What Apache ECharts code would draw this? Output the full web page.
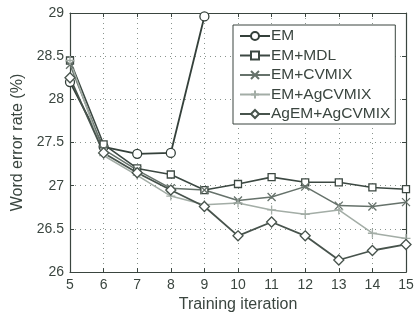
<!DOCTYPE html>
<html><head><meta charset="utf-8">
<script src="https://cdn.jsdelivr.net/npm/echarts@6/dist/echarts.min.js"></script>
<style>html,body{margin:0;padding:0;background:#fff}#c{width:420px;height:318px}</style>
</head><body><div id="c"></div>
<script>
const iterations = [5, 6, 7, 8, 9, 10, 11, 12, 13, 14, 15];
const emValues = [28.2, 27.45, 27.37, 27.38, 28.96, null, null, null, null, null, null];
const mdlValues = [28.45, 27.48, 27.2, 27.13, 26.95, 27.02, 27.1, 27.04, 27.04, 26.98, 26.96];
const cvmixValues = [28.4, 27.42, 27.18, 26.97, 26.95, 26.83, 26.87, 26.99, 26.77, 26.76, 26.81];
const agcvmixValues = [28.45, 27.35, 27.12, 26.88, 26.78, 26.80, 26.72, 26.67, 26.72, 26.45, 26.39];
const agemValues = [28.25, 27.38, 27.15, 26.95, 26.76, 26.42, 26.58, 26.42, 26.14, 26.25, 26.32];
const seriesNames = ['EM', 'EM+MDL', 'EM+CVMIX', 'EM+AgCVMIX', 'AgEM+AgCVMIX'];
const xTicks = [5, 6, 7, 8, 9, 10, 11, 12, 13, 14, 15];
const yTicks = [26, 26.5, 27, 27.5, 28, 28.5, 29];

const pair = vals => iterations.map((x, i) => [x, vals[i]]).filter(p => p[1] !== null);
const txt = '#3a453f';
const font = 'Liberation Sans, Arial, sans-serif';
const xMark = 'path://M0,0L10,10M10,0L0,10';
const plusMark = 'path://M5,0L5,10M0,5L10,5';

function mk(name, vals, color, symbol, size, lw) {
  return {
    name, type: 'line', data: pair(vals), symbol, symbolSize: size,
    showSymbol: true,
    lineStyle: { color, width: lw },
    itemStyle: { color: '#fff', borderColor: color, borderWidth: 1.3 },
    emphasis: { disabled: true }, animation: false, z: 3
  };
}

const chart = echarts.init(document.getElementById('c'));
chart.setOption({
  animation: false,
  backgroundColor: '#fff',
  grid: { left: 70, right: 14, top: 13, bottom: 42 },
  legend: {
    orient: 'vertical', left: 233, top: 25,
    data: seriesNames,
    backgroundColor: '#fff', borderColor: '#3a453f', borderWidth: 1,
    padding: [3, 5, 2, 6], itemGap: 3.5, itemWidth: 30, itemHeight: 10,
    textStyle: { fontFamily: font, fontSize: 15.5, color: txt, padding: [0, 0, 0, -4] }
  },
  xAxis: [{
    type: 'value', min: 5, max: 15, interval: 1,
    name: 'Training iteration', nameLocation: 'middle', nameGap: 24,
    nameTextStyle: { fontFamily: font, fontSize: 16, color: txt },
    axisLine: { lineStyle: { color: '#3a453f', width: 1.2 } },
    axisTick: { inside: true, length: 4, lineStyle: { color: '#3a453f' } },
    axisLabel: { fontFamily: font, fontSize: 14, color: txt, margin: 6,
      formatter: v => xTicks.includes(v) ? String(v) : '' },
    splitLine: { show: true, lineStyle: { type: [1, 4], color: '#8a958e', width: 1 } }
  }, {
    type: 'value', min: 5, max: 15, interval: 1, position: 'top',
    axisLine: { lineStyle: { color: '#3a453f', width: 1.2 } },
    axisTick: { inside: true, length: 4, lineStyle: { color: '#3a453f' } },
    axisLabel: { show: false }, splitLine: { show: false }
  }],
  yAxis: [{
    type: 'value', min: 26, max: 29, interval: 0.5,
    name: 'Word error rate (%)', nameLocation: 'middle', nameGap: 44,
    nameTextStyle: { fontFamily: font, fontSize: 16, color: txt },
    axisLine: { show: true, lineStyle: { color: '#3a453f', width: 1.2 } },
    axisTick: { show: true, inside: true, length: 4, lineStyle: { color: '#3a453f' } },
    axisLabel: { fontFamily: font, fontSize: 14, color: txt, margin: 6,
      formatter: v => yTicks.includes(v) ? String(v) : '' },
    splitLine: { show: true, lineStyle: { type: [1, 4], color: '#8a958e', width: 1 } }
  }, {
    type: 'value', min: 26, max: 29, interval: 0.5, position: 'right',
    axisLine: { show: true, lineStyle: { color: '#3a453f', width: 1.2 } },
    axisTick: { show: true, inside: true, length: 4, lineStyle: { color: '#3a453f' } },
    axisLabel: { show: false }, splitLine: { show: false }
  }],
  series: [
    mk(seriesNames[0], emValues, '#34403a', 'circle', 9, 1.8),
    mk(seriesNames[1], mdlValues, '#3c4842', 'rect', 7, 1.6),
    mk(seriesNames[2], cvmixValues, '#66726b', xMark, 8, 1.5),
    mk(seriesNames[3], agcvmixValues, '#a3ada6', plusMark, 9, 1.5),
    mk(seriesNames[4], agemValues, '#47534c', 'diamond', 10, 1.8)
  ]
});
</script></body></html>
